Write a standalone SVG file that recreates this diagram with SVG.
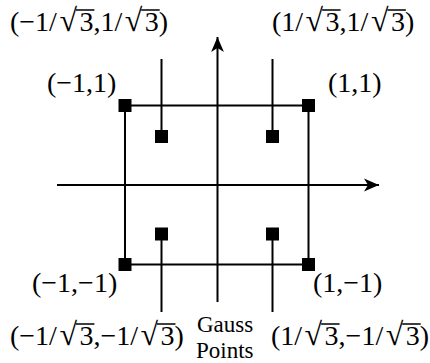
<svg xmlns="http://www.w3.org/2000/svg" width="430" height="363" viewBox="0 0 430 363">
<style>
.ln{stroke:#000;stroke-width:2;fill:none}
.pt{fill:#000}
.t{font-family:"Liberation Serif","Times New Roman",serif;font-size:28px;fill:#000}
.r{font-size:32px}
.g{font-family:"Liberation Serif","Times New Roman",serif;font-size:23px;fill:#000}
.ob{stroke:#000;stroke-width:1.4;fill:none}
</style>
<defs>
<marker id="ah" markerUnits="userSpaceOnUse" markerWidth="16" markerHeight="14" refX="15" refY="7" orient="auto">
<path d="M0,0.6 L15,7 L0,13.4 L4,7 z" fill="#000"/>
</marker>
</defs>
<rect width="430" height="363" fill="#fff"/>
<g id="connectors">
<line class="ln" x1="57" y1="185" x2="379" y2="185" marker-end="url(#ah)"/>
<line class="ln" x1="217.5" y1="302" x2="217.5" y2="37" marker-end="url(#ah)"/>
<line class="ln" x1="125" y1="105.5" x2="308.5" y2="105.5"/>
<line class="ln" x1="125" y1="264.5" x2="308.5" y2="264.5"/>
<line class="ln" x1="125" y1="105.5" x2="125" y2="264.5"/>
<line class="ln" x1="308.5" y1="105.5" x2="308.5" y2="264.5"/>
<line class="ln" x1="161.5" y1="59" x2="161.5" y2="136.5"/>
<line class="ln" x1="272.5" y1="59" x2="272.5" y2="136.5"/>
<line class="ln" x1="161.5" y1="234" x2="161.5" y2="312"/>
<line class="ln" x1="272.5" y1="234" x2="272.5" y2="312"/>
</g>
<g id="node-tl">
<rect class="pt" x="118.5" y="99" width="13" height="13"/>
<text class="t" x="47" y="92">(−1,1)</text>
</g>
<g id="node-tr">
<rect class="pt" x="302" y="99" width="13" height="13"/>
<text class="t" x="328" y="92">(1,1)</text>
</g>
<g id="node-bl">
<rect class="pt" x="118.5" y="258" width="13" height="13"/>
<text class="t" x="32" y="292">(−1,−1)</text>
</g>
<g id="node-br">
<rect class="pt" x="302" y="258" width="13" height="13"/>
<text class="t" x="313" y="292">(1,−1)</text>
</g>
<g id="gauss-tl">
<rect class="pt" x="155" y="130" width="13" height="13"/>
<text class="t" y="31"><tspan x="10">(−1/</tspan><tspan class="r" x="59.4">√</tspan><tspan x="79.4">3,1/</tspan><tspan class="r" x="124.7">√</tspan><tspan x="144.7">3)</tspan></text>
<path class="ob" d="M75.9,10 H94.4 M141.2,10 H159.7"/>
</g>
<g id="gauss-tr">
<rect class="pt" x="266" y="130" width="13" height="13"/>
<text class="t" y="31"><tspan x="272">(1/</tspan><tspan class="r" x="305.6">√</tspan><tspan x="325.6">3,1/</tspan><tspan class="r" x="370.9">√</tspan><tspan x="390.9">3)</tspan></text>
<path class="ob" d="M322.1,10 H340.6 M387.4,10 H405.9"/>
</g>
<g id="gauss-bl">
<rect class="pt" x="155" y="227.5" width="13" height="13"/>
<text class="t" y="345"><tspan x="10">(−1/</tspan><tspan class="r" x="59.4">√</tspan><tspan x="79.4">3,−1/</tspan><tspan class="r" x="140.5">√</tspan><tspan x="160.5">3)</tspan></text>
<path class="ob" d="M75.9,324 H94.4 M157,324 H175.5"/>
</g>
<g id="gauss-br">
<rect class="pt" x="266" y="227.5" width="13" height="13"/>
<text class="t" y="345"><tspan x="271">(1/</tspan><tspan class="r" x="304.6">√</tspan><tspan x="324.6">3,−1/</tspan><tspan class="r" x="385.7">√</tspan><tspan x="405.7">3)</tspan></text>
<path class="ob" d="M321.1,324 H339.6 M402.2,324 H420.7"/>
</g>
<g id="label-gauss">
<text class="g" x="197" y="332">Gauss</text>
<text class="g" x="196" y="358">Points</text>
</g>
</svg>
